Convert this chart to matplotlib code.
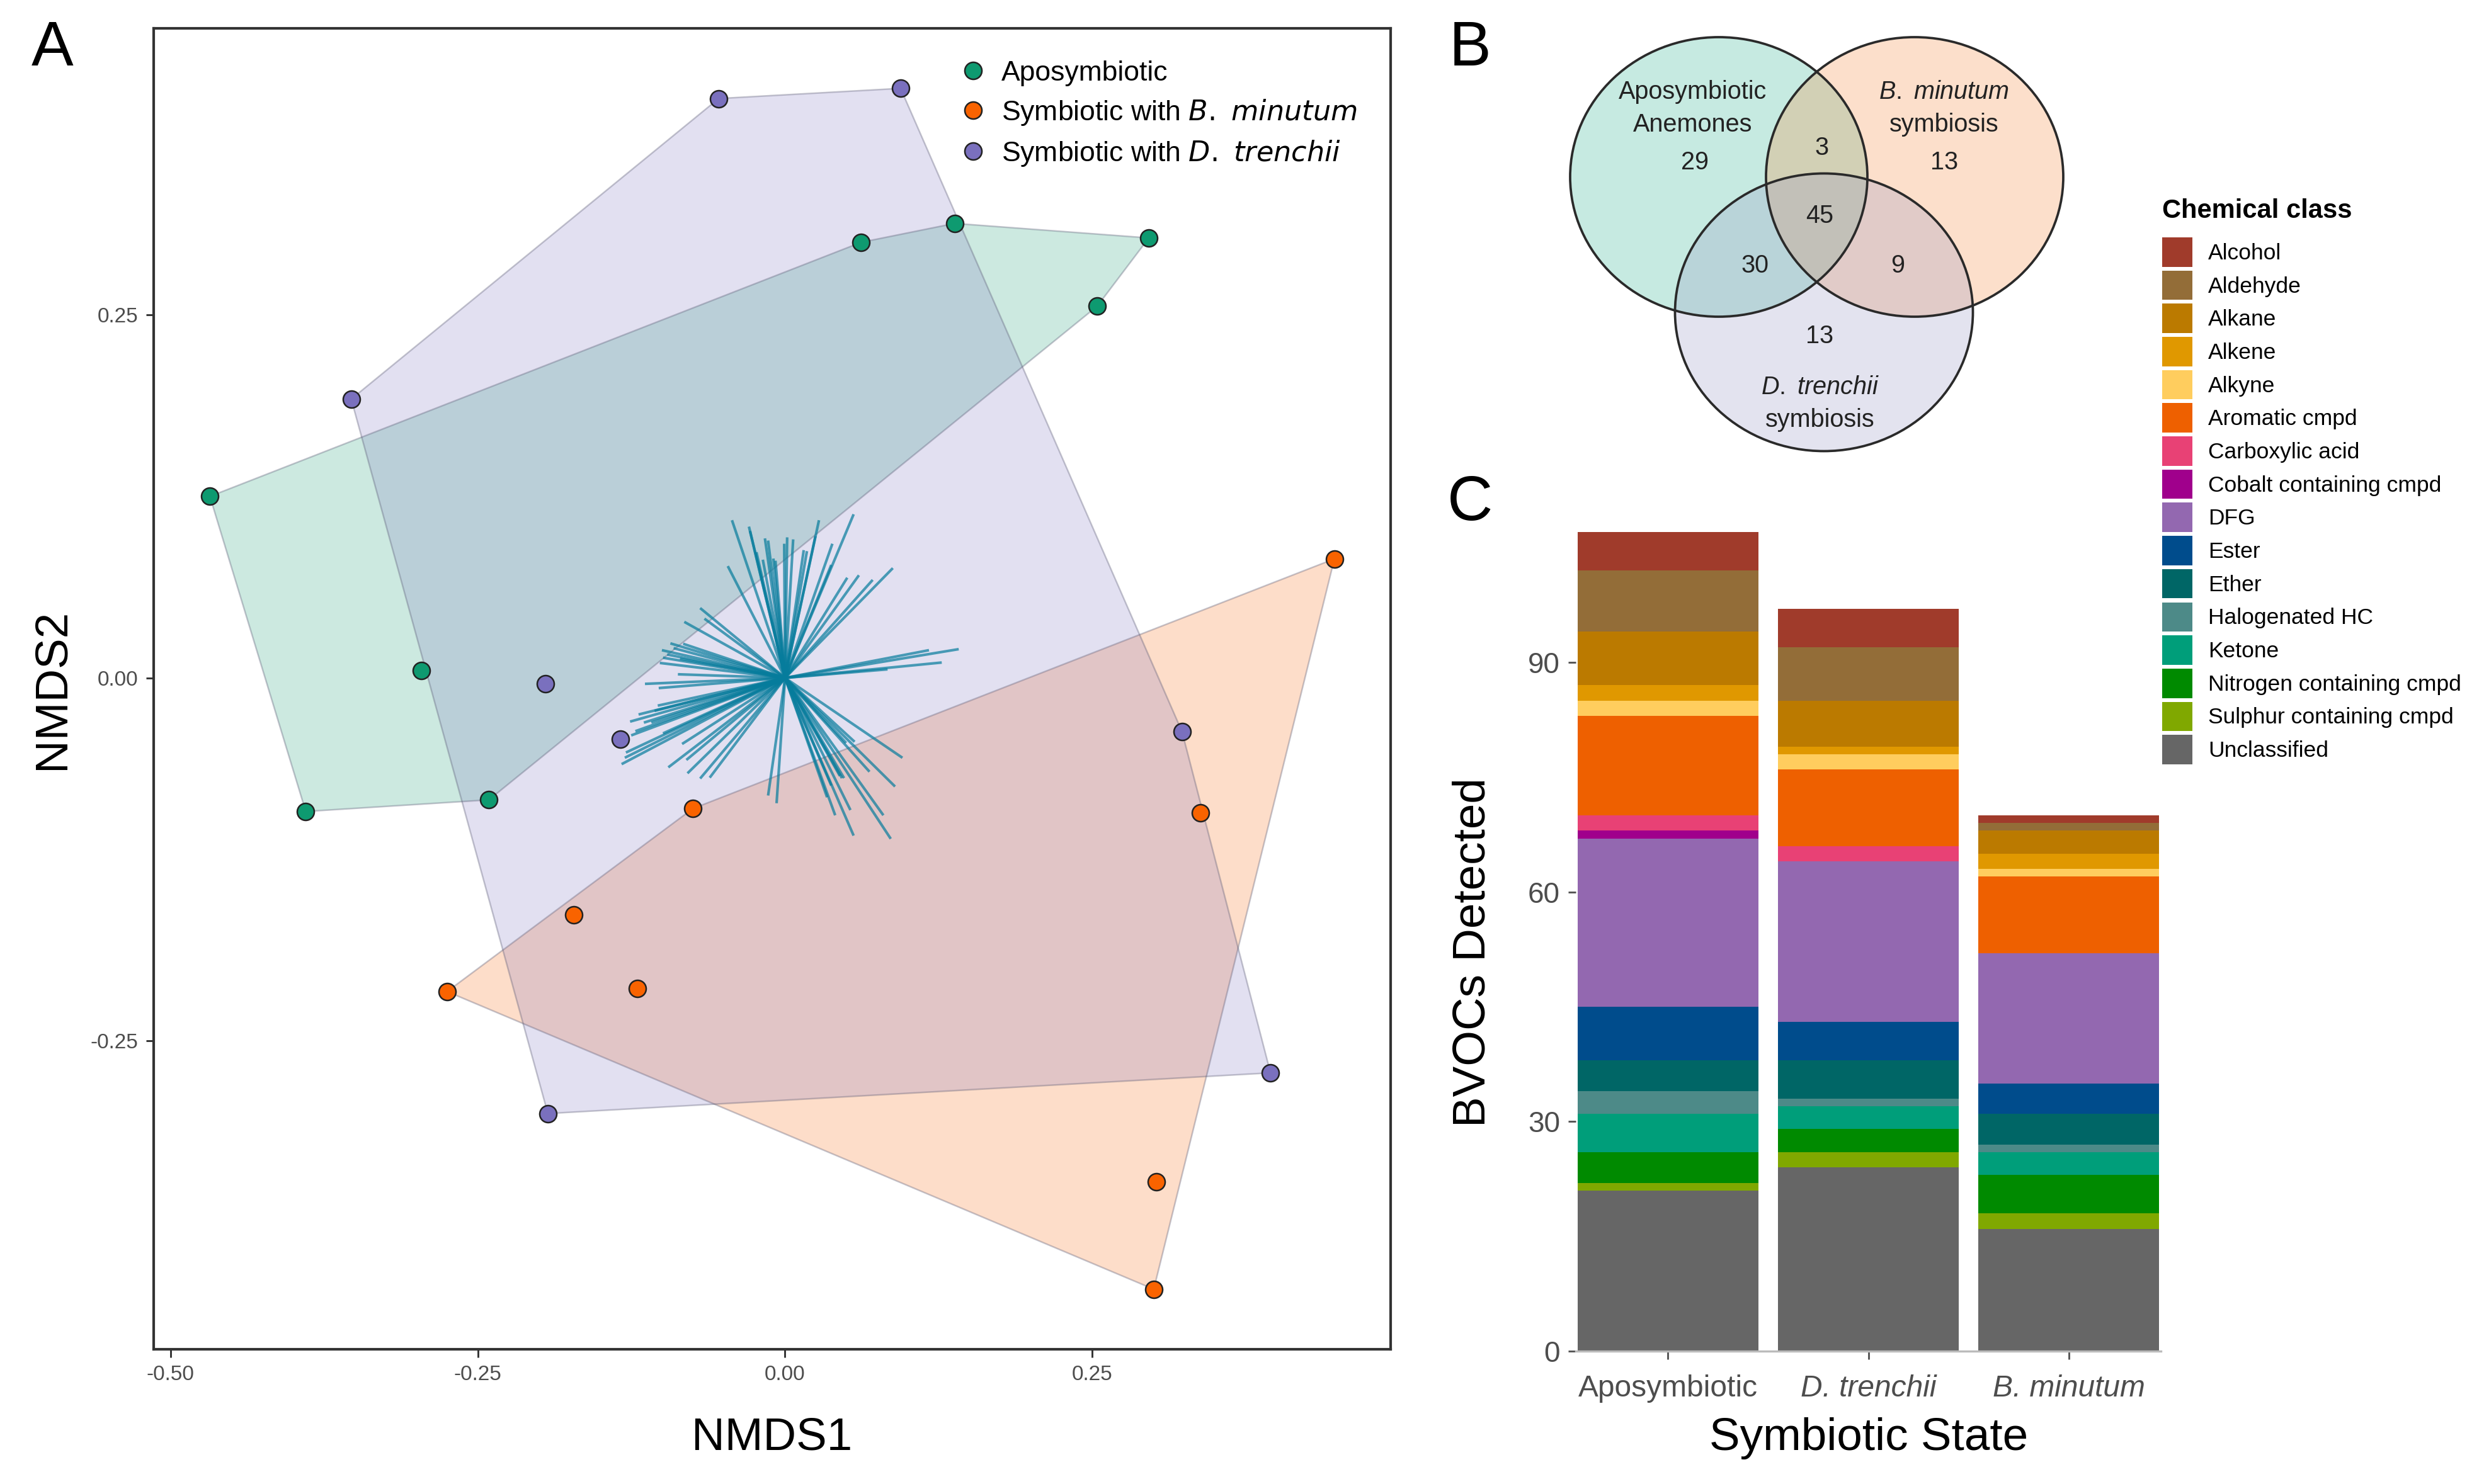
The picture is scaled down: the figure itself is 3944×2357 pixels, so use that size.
import matplotlib
matplotlib.use("Agg")
import matplotlib.pyplot as plt
from matplotlib.font_manager import FontProperties
from matplotlib.lines import Line2D
from matplotlib.patches import Ellipse, Polygon
import numpy as np

plt.rcParams["font.family"] = ["Liberation Sans", "DejaVu Sans"]
plt.rcParams["mathtext.fontset"] = "custom"
plt.rcParams["mathtext.rm"] = "Liberation Sans"
plt.rcParams["mathtext.it"] = "Liberation Sans:italic"

W, H = 3944, 2357
DPI = 300

# ---------------- panel A: NMDS ordination ----------------
apo_x = [-0.468, -0.390, -0.296, -0.241, 0.062, 0.138, 0.296, 0.254]
apo_y = [0.125, -0.092, 0.005, -0.084, 0.300, 0.313, 0.303, 0.256]
bmin_x = [0.447, 0.338, -0.075, -0.172, -0.120, -0.275, 0.302, 0.300]
bmin_y = [0.082, -0.093, -0.090, -0.163, -0.214, -0.216, -0.347, -0.421]
dtr_x = [-0.054, 0.094, -0.353, -0.195, -0.134, 0.323, 0.395, -0.193]
dtr_y = [0.399, 0.406, 0.192, -0.004, -0.042, -0.037, -0.272, -0.300]

group_labels = ["Aposymbiotic",
                r"Symbiotic with $\mathit{B.\ minutum}$",
                r"Symbiotic with $\mathit{D.\ trenchii}$"]
group_colors = ["#0e9a70", "#f96300", "#7a70be"]

# compound (species) scores drawn as segments from the origin
spec_x = [-0.0432, -0.0294, -0.0285, -0.0164, -0.0138, -0.0466, -0.0078, -0.0181,
          -0.0233, -0.0095,
          -0.0691, -0.0656, -0.0820, -0.0933, -0.1002, -0.0993, -0.1019, -0.0829,
          -0.0872, -0.1140, -0.1028, -0.0907, -0.0959, -0.0855,
          -0.1036, -0.1192, -0.1261, -0.1088, -0.1252, -0.1295, -0.1330, -0.0838,
          -0.0803, -0.0950, -0.0794, -0.0691, -0.0613, -0.0993, -0.1149, -0.1218,
          -0.1304, -0.1062,
          -0.0138, -0.0069,
          0.0558, 0.0276, 0.0247, 0.0017, 0.0066, -0.0007, 0.0152, 0.0178,
          0.0385, 0.0376, 0.0506, 0.0601, 0.0713, 0.0877,
          0.1413, 0.1171, 0.1275, 0.0834,
          0.0955, 0.0895, 0.0687, 0.0566, 0.0480, 0.0446, 0.0800, 0.0860,
          0.0558, 0.0408, 0.0532, 0.0342, 0.0376, 0.0497, 0.0463]
spec_y = [0.1086, 0.1042, 0.1012, 0.0961, 0.0946, 0.0770, 0.0807, 0.0814,
          0.0866, 0.0822,
          0.0481, 0.0408, 0.0386, 0.0238, 0.0191, 0.0139, 0.0103, 0.0235,
          0.0025, -0.0041, -0.0070, 0.0205, 0.0161, 0.0132,
          -0.0191, -0.0252, -0.0301, -0.0308, -0.0396, -0.0514, -0.0594, -0.0455,
          -0.0565, -0.0616, -0.0657, -0.0693, -0.0687, -0.0382, -0.0308, -0.0367,
          -0.0550, -0.0227,
          -0.0810, -0.0863,
          0.1127, 0.1086, 0.0976, 0.0968, 0.0954, 0.0924, 0.0880, 0.0873,
          0.0924, 0.0778, 0.0690, 0.0707, 0.0675, 0.0756,
          0.0198, 0.0191, 0.0106, 0.0059,
          -0.0550, -0.0748, -0.0646, -0.0440, -0.0690, -0.0675, -0.0946, -0.1108,
          -0.1086, -0.0946, -0.0910, -0.0822, -0.0741, -0.0448, -0.0690]

# ---------------- panel B: Venn counts ----------------
venn_sets = ["Aposymbiotic\nAnemones", r"$\mathit{B.\ minutum}$" + "\nsymbiosis",
             r"$\mathit{D.\ trenchii}$" + "\nsymbiosis"]
venn_regions = ["A", "AB", "B", "ABC", "AC", "BC", "C"]
venn_counts = [29, 3, 13, 45, 30, 9, 13]

# ---------------- panel C: stacked counts ----------------
states = ["Aposymbiotic", "D. trenchii", "B. minutum"]
classes = ["Alcohol", "Aldehyde", "Alkane", "Alkene", "Alkyne", "Aromatic cmpd",
           "Carboxylic acid", "Cobalt containing cmpd", "DFG", "Ester", "Ether",
           "Halogenated HC", "Ketone", "Nitrogen containing cmpd",
           "Sulphur containing cmpd", "Unclassified"]
class_counts = [
    [5, 5, 1],
    [8, 7, 1],
    [7, 6, 3],
    [2, 1, 2],
    [2, 2, 1],
    [13, 10, 10],
    [2, 2, 0],
    [1, 0, 0],
    [22, 21, 17],
    [7, 5, 4],
    [4, 5, 4],
    [3, 1, 1],
    [5, 3, 3],
    [4, 3, 5],
    [1, 2, 2],
    [21, 24, 16],
]
class_colors = ["#a03b2b", "#936d38", "#bb7a00", "#e09800", "#ffcd5e", "#ee6000",
                "#e84175", "#a0008c", "#9368b0", "#004c8c", "#006666", "#4d8a88",
                "#009e7a", "#008a00", "#80a800", "#666666"]


def hull(xs, ys):
    pts = sorted(zip(xs, ys))

    def cross(o, a, b):
        return (a[0] - o[0]) * (b[1] - o[1]) - (a[1] - o[1]) * (b[0] - o[0])

    lower, upper = [], []
    for p in pts:
        while len(lower) >= 2 and cross(lower[-2], lower[-1], p) <= 0:
            lower.pop()
        lower.append(p)
    for p in reversed(pts):
        while len(upper) >= 2 and cross(upper[-2], upper[-1], p) <= 0:
            upper.pop()
        upper.append(p)
    return np.array(lower[:-1] + upper[:-1])


def fx(px):
    return px / W


def fy(py):
    return 1 - py / H


fig = plt.figure(figsize=(W / DPI, H / DPI), dpi=DPI)

# ---- A
ax = fig.add_axes([fx(244), fy(2143), (2208 - 244) / W, (2143 - 45) / H])
groups = [(apo_x, apo_y), (bmin_x, bmin_y), (dtr_x, dtr_y)]
for (gx, gy), col in zip(groups, group_colors):
    ax.add_patch(Polygon(hull(gx, gy), closed=True, facecolor=col, alpha=0.21,
                         edgecolor="none", zorder=1))
    ax.add_patch(Polygon(hull(gx, gy), closed=True, facecolor="none",
                         edgecolor=(0.35, 0.35, 0.45, 0.35), lw=0.6, zorder=1.1))
for sx, sy in zip(spec_x, spec_y):
    ax.plot([0, sx], [0, sy], color="#067c9c", alpha=0.7, lw=1.0, zorder=2,
            solid_capstyle="butt")
for (gx, gy), col in zip(groups, group_colors):
    ax.scatter(gx, gy, s=42, color=col, edgecolor="#222222", linewidths=0.6, zorder=3)

allx = apo_x + bmin_x + dtr_x
ally = apo_y + bmin_y + dtr_y
rx = max(allx) - min(allx)
ry = max(ally) - min(ally)
ax.set_xlim(min(allx) - 0.05 * rx, max(allx) + 0.05 * rx)
ax.set_ylim(min(ally) - 0.05 * ry, max(ally) + 0.05 * ry)
ax.set_xticks([-0.50, -0.25, 0.00, 0.25])
ax.set_yticks([-0.25, 0.00, 0.25])
ax.xaxis.set_major_formatter(plt.FormatStrFormatter("%.2f"))
ax.yaxis.set_major_formatter(plt.FormatStrFormatter("%.2f"))
ax.tick_params(length=3, width=0.7, color="#333333", labelsize=8,
               labelcolor="#4d4d4d", pad=3)
for sp in ax.spines.values():
    sp.set_color("#333333")
    sp.set_linewidth(1.0)
ax.set_xlabel("NMDS1", fontsize=17.5, va="center")
ax.set_ylabel("NMDS2", fontsize=17.5, va="center")
ax.xaxis.set_label_coords(0.5, -0.0672)
ax.yaxis.set_label_coords(-0.082, 0.5)

handles = [Line2D([], [], ls="none", marker="o", markersize=6.5, markerfacecolor=c,
                  markeredgecolor="#222222", markeredgewidth=0.6) for c in group_colors]
leg_prop = FontProperties(family=["Liberation Sans", "DejaVu Sans"], size=10.7,
                          math_fontfamily="dejavusans")
ax.legend(handles, group_labels, loc="upper left", bbox_to_anchor=(fx(1523), fy(96)),
          bbox_transform=fig.transFigure, frameon=False, prop=leg_prop,
          handlelength=1.0, handletextpad=0.5, labelspacing=0.4, borderpad=0,
          borderaxespad=0)

fig.text(fx(83), fy(78), "A", fontsize=24, ha="center", va="center")

# ---- B
axv = fig.add_axes([fx(2450), fy(740), 870 / W, 700 / H])
axv.set_xlim(2450, 3320)
axv.set_ylim(740, 40)
axv.axis("off")
venn_fill = ["#1fae8b", "#f78333", "#9393c3"]
venn_geom = [(2729, 281, 472, 444), (3040, 281, 472, 444), (2896, 496, 473, 441)]
for (cx, cy, ew, eh), col in zip(venn_geom, venn_fill):
    axv.add_patch(Ellipse((cx, cy), ew, eh, facecolor=col, alpha=0.25, edgecolor="none"))
for cx, cy, ew, eh in venn_geom:
    axv.add_patch(Ellipse((cx, cy), ew, eh, facecolor="none", edgecolor="#2a2a2a", lw=0.9))
set_pos = [(2688, 172), (3087, 172), (2890, 641)]
for name, (tx, ty) in zip(venn_sets, set_pos):
    axv.text(tx, ty, name, ha="center", va="center", fontsize=9.5, color="#222222",
             linespacing=1.45)
region_pos = {"A": (2691, 258), "AB": (2893, 235), "B": (3087, 258), "ABC": (2889, 343),
              "AC": (2786, 422), "BC": (3013, 422), "C": (2889, 534)}
for reg, cnt in zip(venn_regions, venn_counts):
    tx, ty = region_pos[reg]
    axv.text(tx, ty, str(cnt), ha="center", va="center", fontsize=9.5, color="#222222")
fig.text(fx(2334), fy(78), "B", fontsize=24, ha="center", va="center")

# ---- C
axc = fig.add_axes([fx(2502), fy(2146), 929 / W, (2146 - 784.5) / H])
xpos = np.arange(1, len(states) + 1)
bottom = np.zeros(len(states))
bars = {}
for name, counts, col in reversed(list(zip(classes, class_counts, class_colors))):
    bars[name] = axc.bar(xpos, counts, 0.9, bottom=bottom, color=col, edgecolor="none",
                         label=name)
    bottom += np.array(counts)
axc.set_xlim(0.54, 3.46)
axc.set_ylim(0, 112)
axc.set_yticks([0, 30, 60, 90])
axc.set_xticks(xpos)
axc.set_xticklabels(states)
for lab in axc.get_xticklabels()[1:]:
    lab.set_fontstyle("italic")
axc.tick_params(axis="y", length=3, width=0.7, color="#555555", labelsize=11,
                labelcolor="#4d4d4d", pad=3)
axc.tick_params(axis="x", length=3, width=0.7, color="#555555", labelsize=11.5,
                labelcolor="#4d4d4d", pad=6)
for side in ["top", "right", "left"]:
    axc.spines[side].set_visible(False)
axc.spines["bottom"].set_color("#bbbbbb")
axc.spines["bottom"].set_linewidth(0.8)
axc.set_xlabel("Symbiotic State", fontsize=17.5, va="center")
axc.set_ylabel("BVOCs Detected", fontsize=17.5, va="center")
axc.xaxis.set_label_coords(0.5005, -0.1014)
axc.yaxis.set_label_coords(-0.1755, 0.465)

fig.text(fx(3433), fy(335), "Chemical class", fontsize=10, fontweight="bold",
         ha="left", va="center")
fig.legend([bars[c] for c in classes], classes, loc="upper left",
           bbox_to_anchor=(fx(3433), fy(377)), frameon=False, fontsize=8.5,
           handlelength=1.36, handleheight=1.65, labelspacing=0.17,
           handletextpad=0.7, borderpad=0, borderaxespad=0)
fig.text(fx(2334), fy(800), "C", fontsize=24, ha="center", va="center")

fig.savefig("out.png", dpi=DPI)
